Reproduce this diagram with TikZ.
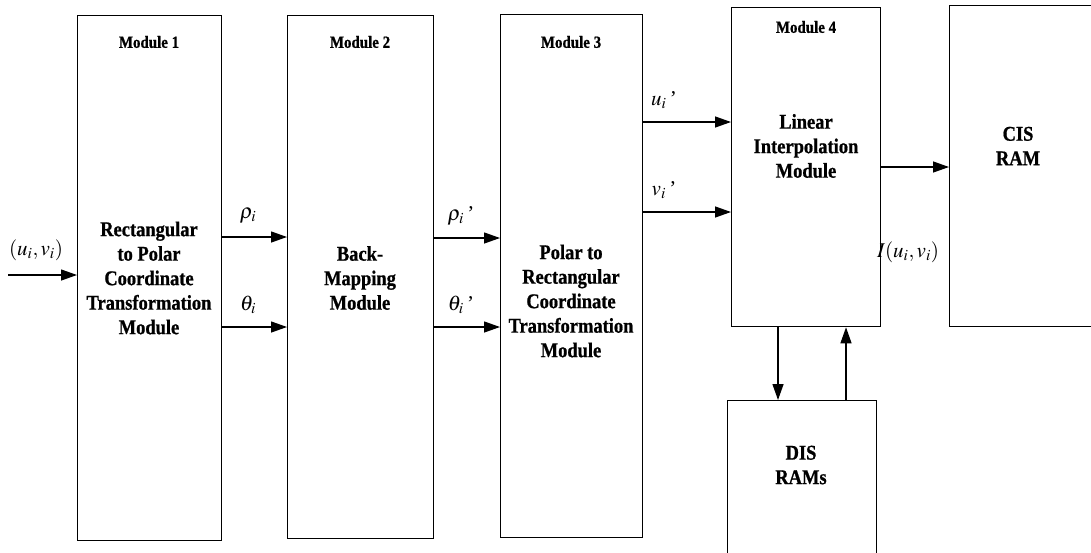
\documentclass[tikz,border=0pt]{standalone}
\usepackage{mathptmx}
\usepackage{fontspec}
\setmainfont{Liberation Serif}
\newfontfamily\boxfont{Liberation Serif}[FakeStretch=0.88,BoldFeatures={FakeBold=0.8}]
\usetikzlibrary{arrows.meta}
\begin{document}
\begin{tikzpicture}[x=1pt,y=-1pt,
  blk/.style={draw,line width=1.3pt,anchor=north west,inner sep=0pt},
  body/.style={align=center,font=\boxfont\bfseries\fontsize{21}{24.5}\selectfont,inner sep=0pt},
  title/.style={font=\boxfont\bfseries\fontsize{17}{19}\selectfont,inner sep=0pt},
  arr/.style={line width=1.3pt,-{Triangle[length=16pt,width=11pt]}},
  lab/.style={font=\fontsize{21}{23}\selectfont,inner sep=0pt}]
\useasboundingbox (0,0) rectangle (1091,552);
\clip (0,0) rectangle (1091,552);

% processing blocks
\node[blk,minimum width=144,minimum height=525] (m1) at (77,15) {};
\node[blk,minimum width=146,minimum height=523] (m2) at (287,15) {};
\node[blk,minimum width=142,minimum height=523] (m3) at (500,14) {};
\node[blk,minimum width=149,minimum height=319] (m4) at (731,7) {};
\node[blk,minimum width=150,minimum height=321] (cis) at (949,5) {};
\node[blk,minimum width=149,minimum height=170] (dis) at (727,400) {};

% titles
\node[title] (t1) at (149,42) {Module 1};
\node[title] (t2) at (360,42) {Module 2};
\node[title] (t3) at (571,42) {Module 3};
\node[title] (t4) at (806,27) {Module 4};

% block contents
\node[body] (b1) at (149,278) {Rectangular\\to Polar\\Coordinate\\Transformation\\Module};
\node[body] (b2) at (360,278) {Back-\\Mapping\\Module};
\node[body] (b3) at (571,301) {Polar to\\Rectangular\\Coordinate\\Transformation\\Module};
\node[body] (b4) at (806,146) {Linear\\Interpolation\\Module};
\node[body] (b5) at (1018,146) {CIS\\RAM};
\node[body] (b6) at (801,465) {DIS\\RAMs};

% input
\coordinate (src) at (8,275);
\draw[arr] (src) -- (m1.west |- src);
\node[lab] (lin) at (36,250) {$(u_i,v_i)$};

% module 1 -> module 2
\draw[arr] (m1.east |- 0,237) -- (m2.west |- 0,237);
\draw[arr] (m1.east |- 0,327) -- (m2.west |- 0,327);
\node[lab] (lrho) at (248,216) {$\rho_i$};
\node[lab] (lth) at (248,305) {$\theta_i$};

% module 2 -> module 3
\draw[arr] (m2.east |- 0,238) -- (m3.west |- 0,238);
\draw[arr] (m2.east |- 0,327) -- (m3.west |- 0,327);
\node[lab] (lrho2) at (461,216) {$\rho_i$\,’};
\node[lab] (lth2) at (461,305) {$\theta_i$\,’};

% module 3 -> module 4
\draw[arr] (m3.east |- 0,122) -- (m4.west |- 0,122);
\draw[arr] (m3.east |- 0,212) -- (m4.west |- 0,212);
\node[lab] (lu) at (664,100) {$u_i$\,’};
\node[lab] (lv) at (664,190) {$v_i$\,’};

% module 4 -> CIS RAM
\draw[arr] (m4.east |- 0,167) -- (cis.west |- 0,167);
\node[lab] (lout) at (908,252) {$I(u_i,v_i)$};

% module 4 <-> DIS RAMs
\draw[arr] (m4.south -| 778,0) -- (dis.north -| 778,0);
\draw[arr] (dis.north -| 846,0) -- (m4.south -| 846,0);
\end{tikzpicture}
\end{document}
